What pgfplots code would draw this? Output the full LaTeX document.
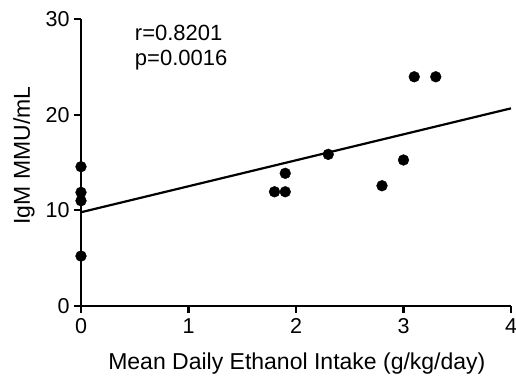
\documentclass[border=0pt]{standalone}
\usepackage{pgfplots}
\pgfplotsset{compat=1.18}
\usepackage{fontspec}
\setmainfont{Liberation Sans}
\begin{document}
\begin{tikzpicture}
\useasboundingbox (-81pt,-73pt) rectangle (435pt,306pt);
\begin{axis}[
  at={(0,0)}, anchor=south west,
  scale only axis,
  width=430pt, height=287pt,
  xmin=0, xmax=4, ymin=0, ymax=30,
  axis lines=left,
  axis line style={-, line width=2.2pt},
  xtick={0,1,2,3,4}, ytick={0,10,20,30},
  tick align=outside,
  major tick length=7pt,
  tick style={line width=2.2pt, black},
  clip=false,
  /pgf/number format/assume math mode=true,
  ticklabel style={font=\fontsize{21.5}{24}\selectfont},
  xticklabel style={yshift=-2pt},
  yticklabel style={xshift=-1pt},
  xlabel={Mean Daily Ethanol Intake (g/kg/day)},
  ylabel={IgM MMU/mL},
  xlabel style={font=\fontsize{23}{26}\selectfont, at={(axis description cs:0.502,0)}, anchor=base, yshift=-64pt},
  ylabel style={font=\fontsize{23}{26}\selectfont, at={(axis description cs:-0.1326,0.524)}, anchor=center},
]
\addplot[only marks, mark=*, mark size=5.4pt, black] coordinates {
  (0,14.56) (0,11.88) (0,11.0) (0,5.22)
  (1.80,11.94) (1.90,11.94) (1.90,13.87) (2.30,15.85)
  (2.80,12.57) (3.00,15.26) (3.10,23.96) (3.30,23.96)
};
\addplot[black, line width=2.2pt] coordinates {(0,9.8) (4,20.66)};
\node[anchor=north west, align=left, inner sep=0pt, font=\fontsize{22}{25}\selectfont] at (axis cs:0.5,29.4) {r=0.8201\\p=0.0016};
\end{axis}
\end{tikzpicture}
\end{document}
